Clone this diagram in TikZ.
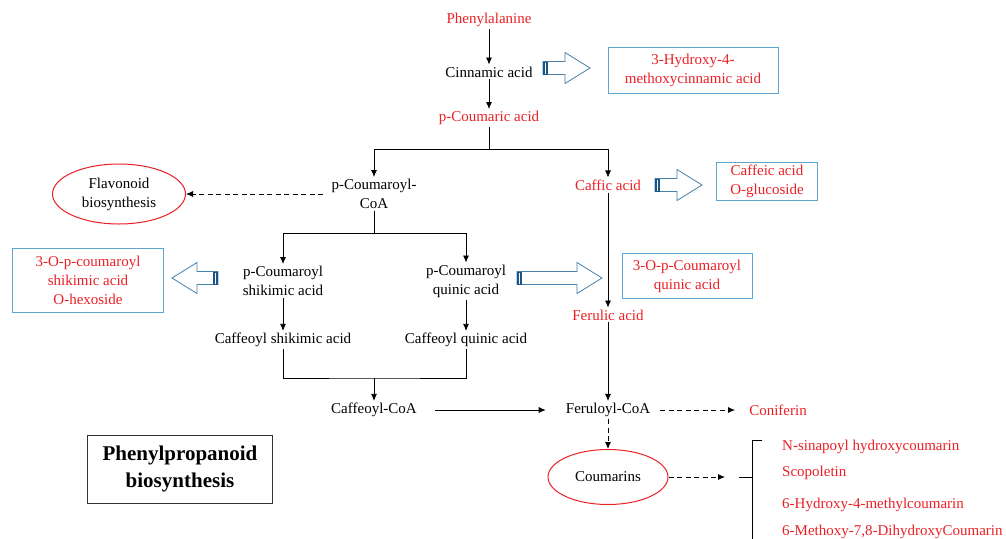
\documentclass[tikz,border=0pt]{standalone}
\usepackage{fontspec}
\setmainfont{Liberation Serif}
\usetikzlibrary{arrows.meta,shapes.geometric}
\definecolor{tred}{RGB}{235,32,38}
\definecolor{bbox}{RGB}{95,165,210}
\definecolor{barrow}{RGB}{70,130,170}
\definecolor{bstripe}{RGB}{25,85,135}
\newcommand\harrow[3]{%
  \pgfmathsetmacro\hd{(#2>#1)?1:-1}%
  \pgfmathsetmacro\hb{#2-\hd*25}%
  \draw[barrow, fill=white, line width=0.8pt, line join=miter] (#1,#3-6.5) -- (\hb,#3-6.5) -- (\hb,#3-15.5) -- (#2,#3) -- (\hb,#3+15.5) -- (\hb,#3+6.5) -- (#1,#3+6.5) -- cycle;
  \fill[bstripe] (#1,#3-6.5) rectangle ({#1+\hd*5},#3+6.5);
  \draw[white, line width=0.7pt] ({#1+\hd*2.5},#3-5.5) -- ({#1+\hd*2.5},#3+5.5);
}
\begin{document}
\begin{tikzpicture}[x=1pt,y=-1pt,
  every node/.style={font=\fontsize{15}{19}\selectfont, align=center, inner sep=2pt},
  rtext/.style={text=tred},
  bluebox/.style={draw=bbox, line width=0.9pt, fill=white, text=tred, inner sep=0pt},
  oval/.style={ellipse, draw=tred, line width=1pt, inner sep=0pt},
  arr/.style={-{Latex[length=7pt,width=6pt]}, line width=0.8pt},
  darr/.style={arr, dash pattern=on 5pt off 3.5pt},
  ln/.style={line width=0.8pt, line join=miter}
]
\useasboundingbox (0,0) rectangle (1006,538);
\fill[white] (0,0) rectangle (1006,538);

% main nodes
\node[rtext] (phe) at (489,20) {Phenylalanine};
\node (cin) at (489,72) {Cinnamic acid};
\node[rtext] (pcou) at (489,118) {p-Coumaric acid};
\node (pcoa) at (374,194) {p-Coumaroyl-\\CoA};
\node[rtext] (caff) at (608,185) {Caffic acid};
\node[oval, minimum width=133, minimum height=60] (flav) at (119,194) {Flavonoid\\biosynthesis};
\node[bluebox, minimum width=170, minimum height=46] (hyd) at (693,70) {3-Hydroxy-4-\\methoxycinnamic acid};
\node[bluebox, minimum width=101, minimum height=38] (cag) at (767,181) {Caffeic acid\\O-glucoside};
\node (shik) at (283,281) {p-Coumaroyl\\shikimic acid};
\node (quin) at (466,281) {p-Coumaroyl\\quinic acid};
\node[bluebox, minimum width=151, minimum height=64] (coqs) at (88,280) {3-O-p-coumaroyl\\shikimic acid\\O-hexoside};
\node[bluebox, minimum width=130, minimum height=45] (coq) at (687,276) {3-O-p-Coumaroyl\\quinic acid};
\node[rtext] (fer) at (608,315) {Ferulic acid};
\node (cshik) at (283,340) {Caffeoyl shikimic acid};
\node (cquin) at (466,340) {Caffeoyl quinic acid};
\node (ccoa) at (374,410) {Caffeoyl-CoA};
\node (fcoa) at (608,410) {Feruloyl-CoA};
\node[rtext] (conif) at (778,410) {Coniferin};
\node[oval, minimum width=120, minimum height=55] (coum) at (608,477) {Coumarins};
\node[rtext, anchor=west] (c1) at (780,447) {N-sinapoyl hydroxycoumarin};
\node[rtext, anchor=west] (c2) at (780,473) {Scopoletin};
\node[rtext, anchor=west] (c3) at (780,505) {6-Hydroxy-4-methylcoumarin};
\node[rtext, anchor=west] (c4) at (780,532) {6-Methoxy-7,8-DihydroxyCoumarin};
\node[draw=black!80, line width=1pt, minimum width=185, minimum height=68, inner sep=0pt,
      font=\fontsize{21}{27}\selectfont\bfseries] (title) at (180,469) {Phenylpropanoid\\biosynthesis};

% junction coordinates
\coordinate (j1) at (489,149);
\coordinate (j2) at (374,233);
\coordinate (j3) at (374,378);
\coordinate (cb) at (725,477);

% connectors
\draw[arr] (phe.south) -- (cin.north);
\draw[arr] (cin.south) -- (pcou.north);
\draw[ln] (pcou.south) -- (j1);
\draw[arr] (j1) -| (pcoa.north);
\draw[arr] (j1) -| (caff.north);
\draw[darr, shorten <=6pt] (pcoa.west) -- (flav.east);
\draw[ln] (pcoa.south) -- (j2);
\draw[arr] (j2) -| (shik.north);
\draw[arr] (j2) -| (quin.north);
\draw[arr] (shik.south) -- (cshik.north);
\draw[arr] (quin.south) -- (cquin.north);
\draw[ln] (cshik.south) |- (j3) -| (cquin.south);
\draw[arr] (j3) -- (ccoa.north);
\draw[arr] (caff.south) -- (fer.north);
\draw[arr] (fer.south) -- (fcoa.north);
\draw[arr, shorten <=16pt, shorten >=18pt] (ccoa.east) -- (fcoa.west);
\draw[darr, shorten <=8pt, shorten >=12pt] (fcoa.east) -- (conif.west);
\draw[darr] (fcoa.south) -- (coum.north);
\draw[darr] (coum.east) -- (cb);

% brace
\draw[line width=0.9pt] (762,440) -- (752,440) -- (752,545);
\draw[line width=0.9pt] (739,477) -- (752,477);

% hollow arrows
\harrow{543}{590}{68}
\harrow{655}{702}{185}
\harrow{218}{172}{278}
\harrow{517}{602}{278}
\end{tikzpicture}
\end{document}
